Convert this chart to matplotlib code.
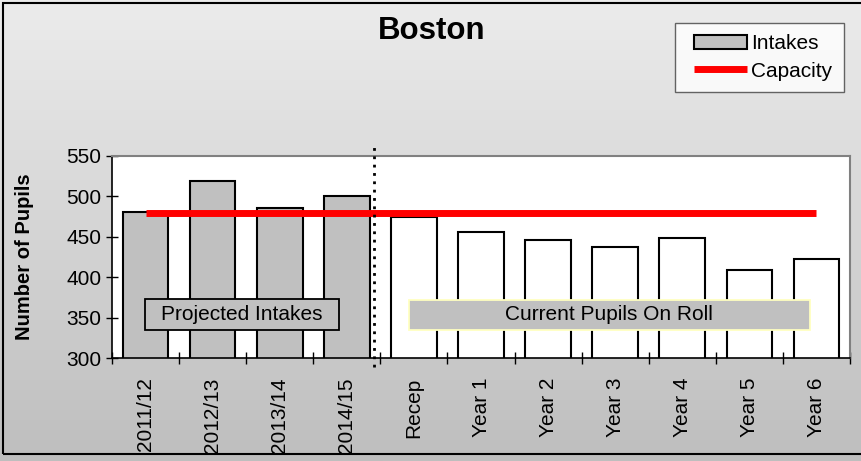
import matplotlib.pyplot as plt
import numpy as np
from matplotlib.patches import Rectangle
from matplotlib.legend_handler import HandlerPatch, HandlerLine2D

plt.rcParams['font.family'] = ['Liberation Sans', 'DejaVu Sans']

categories = ['2011/12', '2012/13', '2013/14', '2014/15',
              'Recep', 'Year 1', 'Year 2', 'Year 3', 'Year 4', 'Year 5', 'Year 6']
projected = [481, 519, 486, 501]
on_roll = [475, 456, 446, 437, 448, 409, 423]
capacity = 480

fig = plt.figure(figsize=(8.61, 4.61), dpi=100)
W, H = 861, 461

# grey gradient behind everything
bg = fig.add_axes([0, 0, 1, 1], zorder=-10)
grad = np.linspace(0, 1, 256).reshape(-1, 1)
top = np.array([236, 236, 236]) / 255
bot = np.array([190, 190, 190]) / 255
img = top + (bot - top) * grad[:, :, None]
bg.imshow(img, aspect='auto', extent=[0, 1, 0, 1])
bg.set_axis_off()
fig.patches.append(Rectangle((3 / W, 1 - 454 / H), 1, 451 / H,
                             transform=fig.transFigure, fill=False,
                             edgecolor='black', linewidth=1.5, zorder=5))

left, right, top_px, bottom_px = 112, 850, 156, 358
ax = fig.add_axes([left / W, 1 - bottom_px / H, (right - left) / W, (bottom_px - top_px) / H])
ax.set_facecolor('white')

x = np.arange(len(categories))
n1 = len(projected)
bars = ax.bar(x[:n1], projected, width=0.68, color='#c0c0c0', edgecolor='black',
              linewidth=1.5, label='Intakes', zorder=2)
ax.bar(x[n1:], on_roll, width=0.68, color='white', edgecolor='black',
       linewidth=1.5, zorder=2)
cap_line, = ax.plot([x[0], x[-1]], [capacity, capacity], color='red', linewidth=5,
                    solid_capstyle='butt', label='Capacity', zorder=3)

ax.set_xlim(-0.5, len(categories) - 0.5)
ax.set_ylim(300, 550)
ax.set_yticks(range(300, 551, 50))
ax.set_xticks(x)
ax.set_xticklabels(categories, rotation=90, fontsize=15)
ax.set_xticks(np.arange(-0.5, len(categories)), minor=True)
ax.tick_params(axis='x', which='major', length=0, pad=14)
ax.tick_params(axis='x', which='minor', length=9, direction='inout', width=1)
ax.tick_params(axis='y', length=9, direction='inout', width=1, labelsize=15, pad=3)
for s in ('left', 'bottom'):
    ax.spines[s].set_color('black')
    ax.spines[s].set_linewidth(1.2)
for s in ('top', 'right'):
    ax.spines[s].set_color('#808080')
    ax.spines[s].set_linewidth(1.5)

ax.set_ylabel('Number of Pupils', fontsize=14.5, fontweight='bold')
ax.yaxis.set_label_coords((34 - left) / (right - left), 0.5)

# dotted divider between projections and current rolls
ax.plot([3.41, 3.41], [289, 561], color='black', linestyle=(0, (1, 2)),
        linewidth=2, clip_on=False, zorder=4)

# section labels
def section_box(x0, x1, y0, y1, text, edge):
    xa, xb = (x0 - left) / 67.1 - 0.5, (x1 - left) / 67.1 - 0.5
    ya, yb = 300 + (bottom_px - y1) / 0.808, 300 + (bottom_px - y0) / 0.808
    ax.add_patch(Rectangle((xa, ya), xb - xa, yb - ya, facecolor='#c0c0c0',
                           edgecolor=edge, linewidth=1.3, zorder=5))
    ax.text((xa + xb) / 2, (ya + yb) / 2, text, fontsize=15, ha='center',
            va='center', zorder=6)

section_box(145, 339, 299, 330, 'Projected Intakes', 'black')
section_box(409, 810, 300, 330, 'Current Pupils On Roll', '#ffffc0')

fig.text(432 / W, 1 - 31 / H, 'Boston', fontsize=22.5, fontweight='bold',
         ha='center', va='center')

bar_patch = bars.patches[0]
leg = fig.legend([bar_patch, cap_line], ['Intakes', 'Capacity'],
                 loc='upper right', bbox_to_anchor=(844 / W, 1 - 23 / H),
                 fontsize=15, frameon=True, fancybox=False, edgecolor='#404040',
                 handlelength=2.9, borderpad=0.55, labelspacing=0.4, handletextpad=0.2,
                 borderaxespad=0,
                 handler_map={bar_patch: HandlerPatch(xpad=0.35),
                              cap_line: HandlerLine2D(xpad=0.35)})
leg.get_frame().set_linewidth(1)

fig.savefig('out.png', dpi=100)
